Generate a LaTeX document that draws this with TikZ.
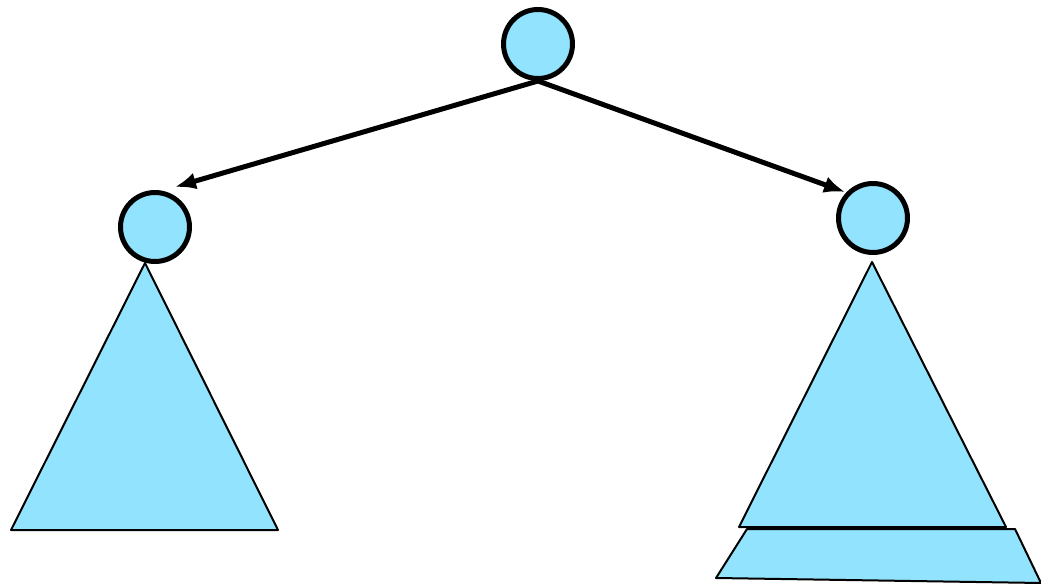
\documentclass[tikz,border=0pt]{standalone}
\usetikzlibrary{arrows.meta}
\definecolor{treeblue}{RGB}{146,227,253}
\begin{document}
\begin{tikzpicture}[x=0.02cm, y=-0.02cm,
		treenode/.style={shape=circle, draw, line width=0.1cm, fill=treeblue, minimum size=1.38cm, inner sep=0pt},
		subtree/.style={draw, line width=0.04cm, line join=round, fill=treeblue},
		edge/.style={line width=0.1cm, -{Latex[length=0.42cm, width=0.34cm]}}]
			\useasboundingbox (0, 0) rectangle (1041, 587);

			\node[treenode] (root) at (538, 44){};
			\node[treenode] (lft) at (155, 227){};
			\node[treenode] (rgt) at (873, 218){};

			\coordinate (lfttip) at (175, 187);
			\coordinate (rgttip) at (845, 192);

			% subtrees
			\draw[subtree] (145, 263) -- (278, 530) -- (11, 530) -- cycle;
			\draw[subtree] (747, 529) -- (1015, 529) -- (1041, 583) -- (716, 578) -- cycle;
			\draw[subtree] (872, 262) -- (1006, 527) -- (739, 527) -- cycle;

			\draw[edge] (root.south) to (lfttip);
			\draw[edge] (root.south) to (rgttip);
		\end{tikzpicture}
\end{document}
